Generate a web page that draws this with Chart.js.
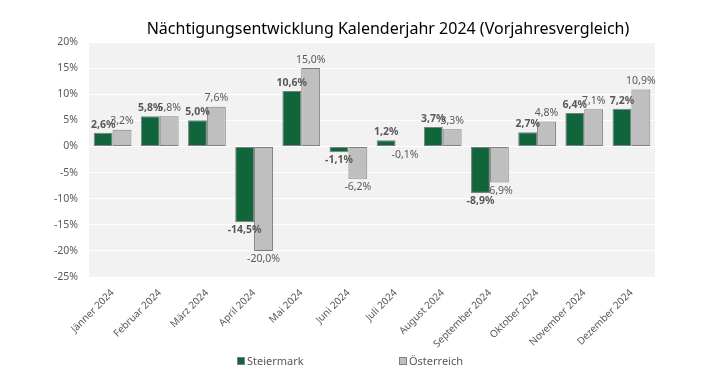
<!DOCTYPE html>
<html>
<head>
<meta charset="utf-8">
<script src="https://cdn.jsdelivr.net/npm/chart.js@4.4.0/dist/chart.umd.min.js"></script>
<style>
  html, body { margin: 0; padding: 0; background: #fff; }
</style>
</head>
<body>
<canvas id="chart" width="709" height="369"></canvas>
<script>
  "use strict";

  // Data - Start
  // --------------------------------------------------
  var months = ["Jänner 2024", "Februar 2024", "März 2024", "April 2024", "Mai 2024", "Juni 2024",
    "Juli 2024", "August 2024", "September 2024", "Oktober 2024", "November 2024", "Dezember 2024"];
  var steiermark = [2.6, 5.8, 5.0, -14.5, 10.6, -1.1, 1.2, 3.7, -8.9, 2.7, 6.4, 7.2];
  var oesterreich = [3.2, 5.8, 7.6, -20.0, 15.0, -6.2, -0.1, 3.3, -6.9, 4.8, 7.1, 10.9];
  var yMin = -25;
  var yMax = 20;
  var yStep = 5;
  var chartTitle = "Nächtigungsentwicklung Kalenderjahr 2024 (Vorjahresvergleich)";
  // Data - End
  // --------------------------------------------------

  var textGray = "#595959";
  var fontFamily = "'Noto Sans', 'Open Sans', sans-serif";

  function fmtPercent(v) {
    return v.toFixed(1).replace(".", ",") + "%";
  }

  // Plot background - grey area behind the bars
  var plotBackground = {
    id: "plotBackground",
    beforeDraw: function(chart) {
      var a = chart.chartArea;
      var ctx = chart.ctx;
      ctx.save();
      ctx.fillStyle = "#f2f2f2";
      ctx.fillRect(a.left, a.top, a.right - a.left, a.bottom - a.top);
      ctx.restore();
    }
  };

  // Value labels at the end of every bar
  var barLabels = {
    id: "barLabels",
    afterDatasetsDraw: function(chart) {
      var ctx = chart.ctx;
      ctx.save();
      ctx.fillStyle = textGray;
      ctx.textAlign = "center";
      chart.data.datasets.forEach(function(ds, i) {
        var meta = chart.getDatasetMeta(i);
        ctx.font = (i === 0 ? "bold " : "") + "10.5px " + fontFamily;
        meta.data.forEach(function(bar, j) {
          var v = ds.data[j];
          if (v >= 0) {
            ctx.textBaseline = "bottom";
            ctx.fillText(fmtPercent(v), bar.x, bar.y - 3);
          } else {
            ctx.textBaseline = "top";
            ctx.fillText(fmtPercent(v), bar.x, bar.y + 3);
          }
        });
      });
      ctx.restore();
    }
  };

  // Title and legend, placed like the original
  var titleLegend = {
    id: "titleLegend",
    afterDraw: function(chart) {
      var ctx = chart.ctx;
      ctx.save();
      ctx.fillStyle = "#000";
      ctx.font = "16px " + fontFamily;
      ctx.textAlign = "center";
      ctx.textBaseline = "alphabetic";
      ctx.fillText(chartTitle, 388, 34);

      var legendX = [237, 399];
      ctx.font = "11px " + fontFamily;
      ctx.textAlign = "left";
      chart.data.datasets.forEach(function(ds, i) {
        var x = legendX[i];
        ctx.fillStyle = ds.backgroundColor;
        ctx.fillRect(x + 0.5, 357.5, 7, 7);
        ctx.strokeStyle = "#7f7f7f";
        ctx.lineWidth = 1;
        ctx.strokeRect(x + 0.5, 357.5, 7, 7);
        ctx.fillStyle = textGray;
        ctx.fillText(ds.label, x + 10, 365);
      });
      ctx.restore();
    }
  };

  var ctxChart = document.getElementById("chart").getContext("2d");
  var devChart = new Chart(ctxChart, {
    type: "bar",
    data: {
      labels: months,
      datasets: [
      {
        label: "Steiermark",
        data: steiermark,
        backgroundColor: "#10663a",
        borderColor: "#7f7f7f",
        borderWidth: 1,
        borderSkipped: false
      },
      {
        label: "Österreich",
        data: oesterreich,
        backgroundColor: "#bfbfbf",
        borderColor: "#7f7f7f",
        borderWidth: 1,
        borderSkipped: false
      }
      ]
    },
    options: {
      responsive: false,
      devicePixelRatio: 1,
      animation: false,
      categoryPercentage: 0.8,
      barPercentage: 1.0,
      layout: {
        padding: { top: 42, right: 54, left: 0, bottom: 0 }
      },
      plugins: {
        legend: { display: false },
        title: { display: false },
        tooltip: { enabled: false }
      },
      scales: {
        x: {
          grid: { display: false },
          border: { display: false },
          ticks: {
            autoSkip: false,
            minRotation: 45,
            maxRotation: 45,
            padding: 2,
            color: textGray,
            font: { family: fontFamily, size: 10 }
          },
          afterFit: function(scale) {
            scale.height = 92;
          }
        },
        y: {
          min: yMin,
          max: yMax,
          grid: {
            color: "#ffffff",
            lineWidth: 1,
            drawTicks: false
          },
          border: { display: false },
          ticks: {
            stepSize: yStep,
            padding: 11,
            color: textGray,
            font: { family: fontFamily, size: 10.5 },
            callback: function(v) { return v + "%"; }
          },
          afterFit: function(scale) {
            scale.width = 89;
          }
        }
      }
    },
    plugins: [plotBackground, barLabels, titleLegend]
  });
</script>
</body>
</html>
